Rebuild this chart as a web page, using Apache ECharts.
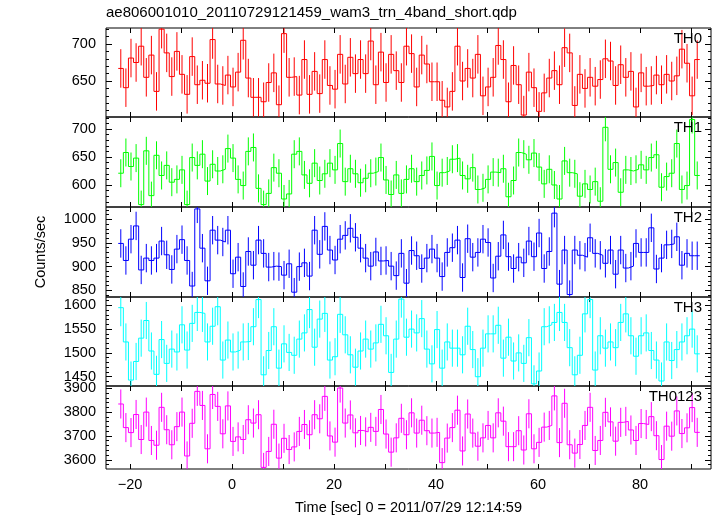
<!DOCTYPE html>
<html><head><meta charset="utf-8">
<script src="https://cdn.jsdelivr.net/npm/echarts@6/dist/echarts.min.js"></script>
<style>html,body{margin:0;padding:0;background:#fff}#c{width:717px;height:516px}</style>
</head><body><div id="c"></div>
<script>
// ---- data (1 s bins, counts/sec) ----
const binStart = -21.8;   // centre of first bin [sec]
const binWidth = 1.0;     // bin width [sec]
const th0 = [667,641,681,675,697,655,685,636,720,688,656,690,659,632,683,645,651,647,706,646,
644,658,642,662,705,654,628,628,622,648,661,618,714,655,656,631,679,632,663,633,
679,644,639,686,646,682,660,679,660,704,645,689,648,686,664,648,697,687,642,685,
673,649,649,624,615,636,697,650,667,654,686,630,642,655,698,679,622,671,645,604,
662,641,609,634,654,664,645,695,688,617,659,640,655,643,652,680,677,644,672,655,
663,615,661,643,644,658,645,659,650,657,693,674,630,679];
const th1 = [621,658,633,648,565,661,581,653,617,635,605,610,627,565,649,635,655,607,637,625,
628,665,648,610,599,660,667,594,565,585,631,621,575,584,655,660,618,603,639,608,
620,639,627,674,606,629,620,604,612,621,624,649,609,583,618,585,610,629,606,617,
626,651,599,622,625,646,648,617,611,631,592,595,610,623,622,629,579,608,658,655,
645,657,632,602,628,600,575,643,622,620,580,602,592,606,571,703,628,640,587,627,
625,628,636,627,649,654,596,615,621,674,592,599,717,617];
const th2 = [949,913,958,986,893,918,913,918,954,925,894,937,957,913,859,1022,939,870,977,956,
952,977,885,920,858,932,903,956,928,899,901,900,882,906,846,900,908,880,977,926,
985,935,914,958,966,981,962,939,918,901,931,912,913,901,881,928,865,934,923,896,
918,937,918,879,930,940,956,877,959,920,930,958,951,876,922,967,921,896,920,908,
954,921,971,896,932,1013,863,935,841,935,924,920,961,928,924,907,935,884,935,897,
901,949,930,930,982,895,918,946,948,963,903,928,923,923];
const th3 = [1595,1523,1443,1482,1531,1568,1504,1455,1528,1478,1508,1502,1559,1506,1562,1585,1583,1523,1556,1597,
1485,1527,1502,1506,1523,1524,1555,1612,1454,1505,1555,1468,1519,1501,1495,1529,1542,1591,1512,1571,
1583,1485,1492,1581,1538,1496,1470,1504,1529,1508,1521,1560,1536,1459,1529,1613,1533,1550,1542,1572,
1508,1477,1549,1468,1523,1510,1510,1496,1556,1507,1450,1510,1540,1540,1558,1489,1533,1483,1500,1478,
1532,1435,1462,1555,1559,1564,1585,1564,1511,1454,1495,1582,1612,1464,1536,1510,1523,1511,1564,1582,
1536,1493,1536,1542,1505,1485,1441,1523,1484,1507,1523,1536,1550,1498];
const th0123 = [3834,3735,3714,3790,3685,3800,3681,3661,3820,3726,3663,3739,3800,3616,3753,3887,3828,3646,3874,3824,
3709,3826,3677,3696,3685,3768,3754,3789,3568,3635,3749,3607,3690,3643,3654,3719,3748,3705,3789,3772,
3866,3700,3674,3901,3754,3788,3713,3723,3717,3736,3719,3811,3708,3632,3692,3774,3705,3797,3712,3766,
3722,3712,3715,3588,3691,3735,3808,3637,3792,3712,3657,3692,3744,3692,3797,3762,3655,3655,3722,3641,
3793,3646,3673,3737,3744,3868,3672,3837,3663,3628,3664,3744,3820,3639,3681,3799,3759,3678,3757,3761,
3725,3681,3752,3748,3781,3701,3601,3741,3699,3805,3710,3734,3819,3715];
const panelNames = ['TH0','TH1','TH2','TH3','TH0123'];
const panelErr = [26, 25, 30, 39, 61];          // typical 1-sigma error per bin
const panelColors = ['#ff0000','#00ff00','#0000ff','#00ffff','#ff00ff'];
const xLabelTicks = [-20, 0, 20, 40, 60, 80];
const xTicks = [-20,-10,0,10,20,30,40,50,60,70,80,90];
const xRange = [-24.7, 93.9];
const yRanges = [[601.4,721.6],[560.7,721.4],[835.8,1026],[1430.5,1617.4],[3561.3,3909.5]];
const yMajor = [[650,700],[600,650,700],[850,900,950,1000],[1450,1500,1550,1600],[3600,3700,3800,3900]];
const yMinor = [[610,620,630,640,650,660,670,680,690,700,710,720],
  [570,580,590,600,610,620,630,640,650,660,670,680,690,700,710,720],
  [840,850,860,870,880,890,900,910,920,930,940,950,960,970,980,990,1000,1010,1020],
  [1440,1450,1460,1470,1480,1490,1500,1510,1520,1530,1540,1550,1560,1570,1580,1590,1600,1610],
  [3580,3600,3620,3640,3660,3680,3700,3720,3740,3760,3780,3800,3820,3840,3860,3880,3900]];
const series = [th0, th1, th2, th3, th0123];
const times = th0.map((_, k) => +(binStart + k * binWidth).toFixed(2));

// ---- layout ----
const FONT = '"Liberation Sans", Arial, Helvetica, sans-serif';
const tops = [28, 117, 207, 297, 386, 476];
const gridLeft = 106, gridRight = 711;

const grids = [], xAxes = [], yAxes = [], seriesOpts = [], graphics = [];
const minus = v => (v < 0 ? '\u2212' + Math.abs(v) : String(v));
const plain = v => String(v);
const noLine = {show: false, onZero: false};

for (let i = 0; i < 5; i++) {
  grids.push({left: gridLeft, top: tops[i], width: gridRight - gridLeft, height: tops[i+1] - tops[i],
    show: true, borderColor: '#000', borderWidth: 1, backgroundColor: 'transparent'});
  const xBase = {type: 'value', gridIndex: i, min: xRange[0], max: xRange[1],
    axisLine: noLine, splitLine: {show: false}};
  xAxes.push(Object.assign({}, xBase, {position: 'bottom',
    axisTick: {show: true, inside: true, length: 5, customValues: xTicks, lineStyle: {color: '#000'}},
    axisLabel: {show: i === 4, customValues: xLabelTicks, formatter: minus, color: '#000',
      fontSize: 14.5, fontFamily: FONT, margin: 8},
    name: i === 4 ? 'Time [sec] 0 = 2011/07/29 12:14:59' : '', nameLocation: 'middle', nameGap: 31,
    nameTextStyle: {color: '#000', fontSize: 14.5, fontFamily: FONT}}));
  xAxes.push(Object.assign({}, xBase, {position: 'top',
    axisTick: {show: true, inside: true, length: 5, customValues: xTicks, lineStyle: {color: '#000'}},
    axisLabel: {show: false}}));
  const yBase = {type: 'value', gridIndex: i, min: yRanges[i][0], max: yRanges[i][1],
    axisLine: noLine, splitLine: {show: false}};
  yAxes.push(Object.assign({}, yBase, {position: 'left',
    axisTick: {show: true, inside: true, length: 6, customValues: yMajor[i], lineStyle: {color: '#000'}},
    axisLabel: {show: true, customValues: yMajor[i], formatter: plain, color: '#000', fontSize: 14.5, fontFamily: FONT, margin: 10},
    name: i === 2 ? 'Counts/sec' : '', nameLocation: 'middle', nameGap: 58,
    nameTextStyle: {color: '#000', fontSize: 14.5, fontFamily: FONT}}));
  yAxes.push(Object.assign({}, yBase, {position: 'left', offset: 0,
    axisTick: {show: true, inside: true, length: 3, customValues: yMinor[i], lineStyle: {color: '#000'}},
    axisLabel: {show: false}}));
  yAxes.push(Object.assign({}, yBase, {position: 'right', offset: 0,
    axisTick: {show: true, inside: true, length: 6, customValues: yMajor[i], lineStyle: {color: '#000'}},
    axisLabel: {show: false}}));
  yAxes.push(Object.assign({}, yBase, {position: 'right', offset: 0,
    axisTick: {show: true, inside: true, length: 3, customValues: yMinor[i], lineStyle: {color: '#000'}},
    axisLabel: {show: false}}));

  const vals = series[i], err = panelErr[i], color = panelColors[i];
  // histogram-style step line: each bin drawn from its left edge to its right edge
  const stepPts = [];
  times.forEach((t, k) => { stepPts.push([t - binWidth / 2, vals[k]], [t + binWidth / 2, vals[k]]); });
  seriesOpts.push({
    type: 'line', xAxisIndex: 2 * i, yAxisIndex: 4 * i, data: stepPts, clip: true, silent: true,
    symbol: 'none', showSymbol: false, lineStyle: {color: color, width: 1}, itemStyle: {color: color},
    z: 3
  });
  // error bars
  seriesOpts.push({
    type: 'custom', xAxisIndex: 2 * i, yAxisIndex: 4 * i, clip: true, silent: true,
    encode: {x: 0, y: 1}, itemStyle: {color: color}, z: 2,
    data: times.map((t, k) => [t, vals[k], err]),
    renderItem: function (params, api) {
      const x = api.value(0), y = api.value(1), e = api.value(2);
      const et = api.coord([x, y + e]), eb = api.coord([x, y - e]);
      return {type: 'line', shape: {x1: et[0], y1: et[1], x2: eb[0], y2: eb[1]},
        style: {stroke: color, lineWidth: 1}};
    }
  });
  graphics.push({type: 'text', right: 717 - 702, top: tops[i] + 3, z: 10,
    style: {text: panelNames[i], fill: '#000', font: '15px ' + FONT}});
}

const chart = echarts.init(document.getElementById('c'), null, {renderer: 'canvas'});
chart.setOption({
  backgroundColor: '#fff',
  animation: false,
  title: {text: 'ae806001010_20110729121459_wam3_trn_4band_short.qdp', left: 106, top: 5, padding: 0,
    textStyle: {color: '#000', fontSize: 15, fontWeight: 'normal', fontFamily: FONT}},
  grid: grids, xAxis: xAxes, yAxis: yAxes, series: seriesOpts, graphic: graphics
});
</script>
</body></html>
